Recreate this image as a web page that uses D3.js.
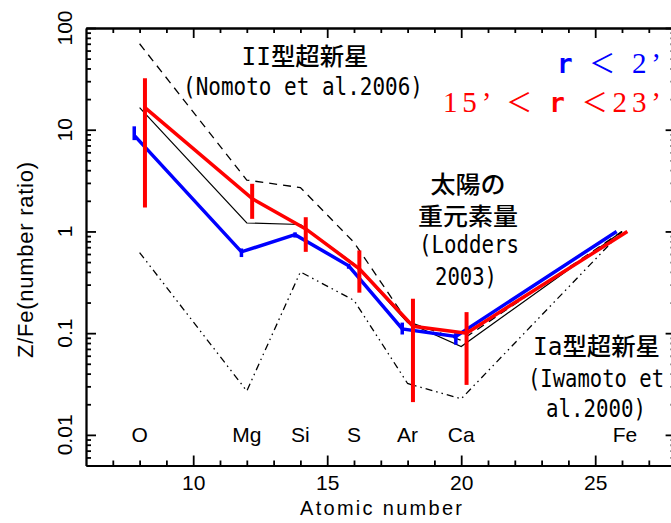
<!DOCTYPE html>
<meta charset="utf-8">
<style>
body { margin: 0; background: #fff; }
svg { display: block; overflow: hidden; }
.axis path, .axis line { stroke: #000; stroke-width: 1.8px; }
.axis text { font-family: "Liberation Sans", Arial, sans-serif; font-size: 21px; fill: #000; }
.line { fill: none; }
</style>
<body>
<script src="https://d3js.org/d3.v7.min.js"></script>
<script>

// elements and their atomic numbers
var elements = ["O", "Mg", "Si", "S", "Ar", "Ca", "Fe"];
var atomicNum = [8, 12, 14, 16, 18, 20, 26];

// model curves (Z/Fe number ratio, normalised to Fe)
var solar = [16.5, 1.21, 1.17, 0.48, 0.127, 0.074, 1.0];
var snII  = [70, 3.2, 2.7, 0.78, 0.13, 0.085, 1.0];
var snIa  = [0.62, 0.027, 0.40, 0.21, 0.032, 0.0226, 1.0];

// observed: r < 2'
var innerVal = [8.8, 0.63, 0.93, 0.46, 0.110, 0.093, 1.0];
var innerLo  = [7.9, 0.56, 0.87, 0.43, 0.097, 0.077, 1.0];
var innerHi  = [10.8, 0.68, 0.98, 0.48, 0.127, 0.100, 1.0];

// observed: 15' < r < 23'
var outerVal = [16.5, 2.1, 1.06, 0.43, 0.117, 0.100, 1.0];
var outerLo  = [1.72, 1.33, 0.63, 0.25, 0.021, 0.031, 1.0];
var outerHi  = [32, 2.94, 1.38, 0.65, 0.218, 0.161, 1.0];

// axis ticks
var xMajorTicks = [10, 15, 20, 25];
var yMajorTicks = [0.01, 0.1, 1, 10, 100];
var yTickLabels = ["0.01", "0.1", "1", "10", "100"];

var width = 671, height = 523;
var plotL = 86, plotT = 28, plotR = 675.6, plotB = 465.5;

var svg = d3.select("body").append("svg")
    .attr("width", width)
    .attr("height", height);

var x = d3.scaleLinear().domain([6, 28]).range([plotL, plotR]);
var y = d3.scaleLog().domain([0.005, 100]).range([plotB, plotT]);

var xMinor = d3.range(7, 28).filter(function(d) { return xMajorTicks.indexOf(d) < 0; });
var yMinor = y.ticks().filter(function(d) {
  return yMajorTicks.every(function(m) { return Math.abs(d - m) / m > 1e-6; });
}).filter(function(d) { return d > 0.0051; });

// bottom axis
svg.append("g").attr("class", "axis")
    .attr("transform", "translate(0," + plotB + ")")
    .call(d3.axisBottom(x).tickValues(xMajorTicks).tickSize(-10).tickSizeOuter(0).tickPadding(10));
svg.append("g").attr("class", "axis")
    .attr("transform", "translate(0," + plotB + ")")
    .call(d3.axisBottom(x).tickValues(xMinor).tickSize(-5).tickSizeOuter(0).tickFormat(""));
// top axis
svg.append("g").attr("class", "axis")
    .attr("transform", "translate(0," + plotT + ")")
    .call(d3.axisTop(x).tickValues(xMajorTicks).tickSize(-10).tickSizeOuter(0).tickFormat(""));
svg.append("g").attr("class", "axis")
    .attr("transform", "translate(0," + plotT + ")")
    .call(d3.axisTop(x).tickValues(xMinor).tickSize(-5).tickSizeOuter(0).tickFormat(""));
// left axis
svg.append("g").attr("class", "axis")
    .attr("transform", "translate(" + plotL + ",0)")
    .call(d3.axisLeft(y).tickValues(yMajorTicks).tickSize(-10).tickSizeOuter(0).tickFormat(""));
svg.append("g").attr("class", "axis")
    .attr("transform", "translate(" + plotL + ",0)")
    .call(d3.axisLeft(y).tickValues(yMinor).tickSize(-5).tickSizeOuter(0).tickFormat(""));
// right axis
svg.append("g").attr("class", "axis")
    .attr("transform", "translate(" + plotR + ",0)")
    .call(d3.axisRight(y).tickValues(yMajorTicks).tickSize(-10).tickSizeOuter(0).tickFormat(""));
svg.append("g").attr("class", "axis")
    .attr("transform", "translate(" + plotR + ",0)")
    .call(d3.axisRight(y).tickValues(yMinor).tickSize(-5).tickSizeOuter(0).tickFormat(""));

// rotated y tick labels
svg.selectAll(".ylab")
    .data(yMajorTicks)
  .enter().append("text")
    .attr("transform", function(d) { return "translate(72," + y(d) + ") rotate(-90)"; })
    .attr("text-anchor", "middle")
    .attr("font-family", "Liberation Sans, Arial, sans-serif")
    .attr("font-size", 21)
    .text(function(d, i) { return yTickLabels[i]; });

// axis titles
svg.append("text")
    .attr("transform", "translate(33,260) rotate(-90)")
    .attr("text-anchor", "middle")
    .attr("font-family", "Liberation Sans, Arial, sans-serif")
    .attr("font-size", 22)
    .attr("textLength", 196)
    .text("Z/Fe(number ratio)");
svg.append("text")
    .attr("x", 381)
    .attr("y", 515)
    .attr("text-anchor", "middle")
    .attr("font-family", "Liberation Sans, Arial, sans-serif")
    .attr("font-size", 20)
    .attr("textLength", 162)
    .text("Atomic number");

// element labels
svg.selectAll(".elab")
    .data(elements)
  .enter().append("text")
    .attr("x", function(d, i) { return x(atomicNum[i]) + (d == "Fe" ? 3 : 0); })
    .attr("y", 442)
    .attr("text-anchor", "middle")
    .attr("font-family", "Liberation Sans, Arial, sans-serif")
    .attr("font-size", 21)
    .text(function(d) { return d; });

// build point lists
function pts(vals, dx) {
  return vals.map(function(v, i) { return {z: atomicNum[i] + dx, v: v}; });
}
var valueline = d3.line()
    .x(function(d) { return x(d.z); })
    .y(function(d) { return y(d.v); });

// model lines
svg.append("path").datum(pts(snIa, 0)).attr("class", "line")
    .attr("stroke", "#000").attr("stroke-width", 1.3)
    .attr("stroke-dasharray", "7,4,1.5,4,1.5,4")
    .attr("d", valueline);
svg.append("path").datum(pts(snII, 0)).attr("class", "line")
    .attr("stroke", "#000").attr("stroke-width", 1.3)
    .attr("stroke-dasharray", "8,6")
    .attr("d", valueline);
svg.append("path").datum(pts(solar, 0)).attr("class", "line")
    .attr("stroke", "#000").attr("stroke-width", 1.2)
    .attr("d", valueline);

// observed series with error bars
function series(vals, lo, hi, dx, color, w, ew) {
  svg.append("path").datum(pts(vals, dx)).attr("class", "line")
      .attr("stroke", color).attr("stroke-width", w)
      .attr("d", valueline);
  svg.selectAll(null)
      .data(vals)
    .enter().append("line")
      .attr("x1", function(d, i) { return x(atomicNum[i] + dx); })
      .attr("x2", function(d, i) { return x(atomicNum[i] + dx); })
      .attr("y1", function(d, i) { return y(lo[i]); })
      .attr("y2", function(d, i) { return y(hi[i]); })
      .attr("stroke", color)
      .attr("stroke-width", ew);
}
series(innerVal, innerLo, innerHi, -0.2, "#0000ff", 3.5, 3.5);
series(outerVal, outerLo, outerHi, 0.2, "#ff0000", 3.5, 4);

// annotation text: tall half-width mono squeezed to the measured width
var cjk = /[\u3000-\u9fff\uff00-\uffef]/;
function anno(str, xpos, ypos, anchor, len) {
  var t = svg.append("text")
      .attr("x", xpos).attr("y", ypos)
      .attr("text-anchor", anchor)
      .attr("fill", "#000")
      .attr("textLength", len)
      .attr("lengthAdjust", "spacingAndGlyphs");
  var runs = [], cur = null;
  for (var i = 0; i < str.length; i++) {
    var c = cjk.test(str[i]);
    if (!cur || cur.c != c) { cur = {c: c, s: ""}; runs.push(cur); }
    cur.s += str[i];
  }
  runs.forEach(function(r) {
    t.append("tspan")
        .attr("font-family", r.c ? "Noto Sans CJK JP" : "DejaVu Sans Mono, Noto Sans CJK JP")
        .attr("font-weight", r.c ? 500 : "normal")
        .attr("font-size", 24)
        .text(r.s);
  });
}
anno("II型超新星", 305, 65, "middle", 127);
anno("(Nomoto et al.2006)", 183, 95, "start", 240);
anno("太陽の", 468, 193, "middle", 75);
anno("重元素量", 468, 225, "middle", 100);
anno("(Lodders", 469, 253, "middle", 100);
anno("2003)", 466, 285, "middle", 62);
anno("Ia型超新星", 533, 355, "start", 127);
anno("(Iwamoto et", 528, 387, "start", 136);
anno("al.2000)", 546, 417, "start", 100);

// legend
function legend(str, ypos, color, len) {
  var t = svg.append("text")
      .attr("x", 661).attr("y", ypos)
      .attr("text-anchor", "end")
      .attr("fill", color)
      .attr("textLength", len);
  for (var i = 0; i < str.length; i++) {
    var ch = str[i];
    var s = t.append("tspan").text(ch);
    if (ch == "r") {
      s.attr("font-family", "DejaVu Sans Mono").attr("font-weight", "bold").attr("font-size", 26);
    } else if (ch == "＜") {
      s.attr("font-family", "Noto Sans CJK JP").attr("font-size", 26);
    } else {
      s.attr("font-family", "Liberation Serif").attr("font-size", 29);
    }
  }
}
legend("r ＜ 2’", 73, "#0000ff", 104);
legend("15’ ＜ r ＜23’", 112, "#ff0000", 218);

</script>
</body>
